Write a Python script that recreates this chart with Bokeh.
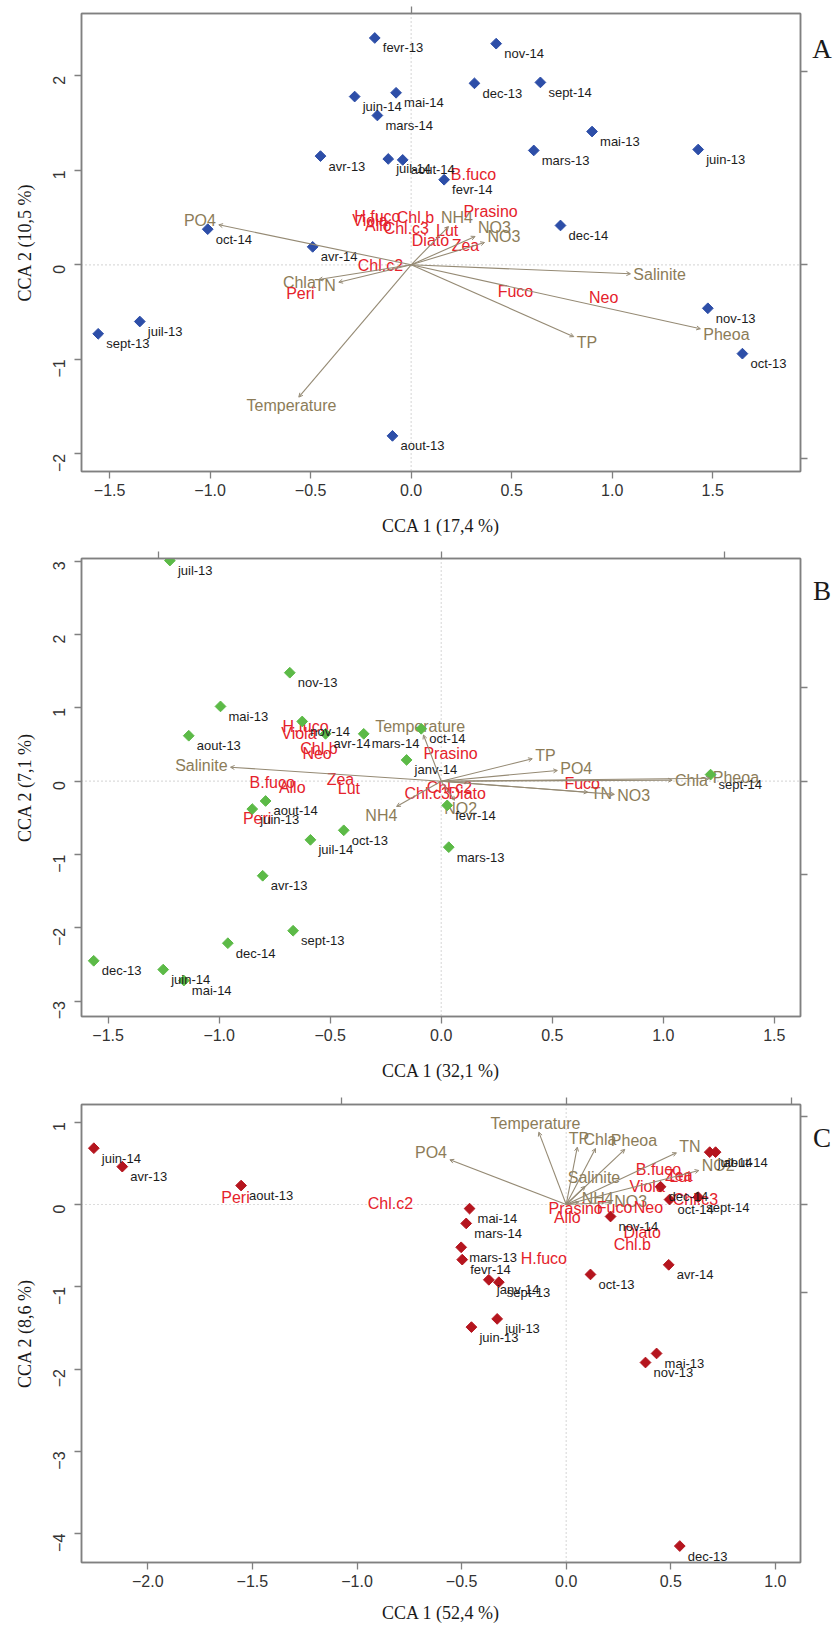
import math
from bokeh.plotting import figure
from bokeh.layouts import column, row
from bokeh.models import (Range1d, LinearAxis, FixedTicker, ColumnDataSource, Arrow,
                          OpenHead, Span, CustomJSTickFormatter)
from bokeh.core.properties import value
from bokeh.embed import file_html
from bokeh.resources import INLINE

# ---------------- Panel A ----------------
a_sites = ["fevr-13", "juin-14", "mai-14", "mars-14", "avr-13", "juil-14", "aout-14", "oct-14",
           "avr-14", "nov-14", "dec-13", "sept-14", "mai-13", "mars-13", "juin-13", "fevr-14",
           "dec-14", "juil-13", "sept-13", "aout-13", "nov-13", "oct-13"]
a_site_x = [-0.181, -0.281, -0.075, -0.168, -0.451, -0.114, -0.042, -1.012,
            -0.49, 0.423, 0.315, 0.643, 0.90, 0.61, 1.428, 0.164,
            0.743, -1.35, -1.557, -0.093, 1.476, 1.648]
a_site_y = [2.40, 1.78, 1.82, 1.58, 1.15, 1.12, 1.11, 0.377,
            0.19, 2.34, 1.92, 1.93, 1.41, 1.21, 1.22, 0.90,
            0.416, -0.60, -0.73, -1.81, -0.46, -0.94]
a_spec = ["B.fuco", "Prasino", "Chl.b", "Viola", "H.fuco", "Allo", "Chl.c3", "Lut",
          "Diato", "Zea", "Chl.c2", "Peri", "Fuco", "Neo"]
a_spec_x = [0.31, 0.395, 0.021, -0.205, -0.168, -0.163, -0.024, 0.179,
            0.096, 0.27, -0.153, -0.551, 0.519, 0.958]
a_spec_y = [0.952, 0.567, 0.504, 0.469, 0.511, 0.416, 0.384, 0.363,
            0.257, 0.204, -0.007, -0.30, -0.279, -0.343]
a_env = ["PO4", "Temperature", "Chla", "TN", "Salinite", "TP", "Pheoa", "NH4", "NO3", "NO3"]
a_env_x = [-0.957, -0.559, -0.46, -0.36, 1.091, 0.809, 1.439, 0.186, 0.318, 0.365]
a_env_y = [0.423, -1.40, -0.156, -0.184, -0.095, -0.76, -0.677, 0.405, 0.30, 0.236]
a_mul = 2.05

# ---------------- Panel B ----------------
b_sites = ["juil-13", "nov-13", "mai-13", "aout-13", "nov-14", "avr-14", "mars-14", "janv-14",
           "oct-14", "sept-14", "aout-14", "juin-13", "oct-13", "juil-14", "avr-13", "sept-13",
           "dec-14", "dec-13", "juin-14", "mai-14", "fevr-14", "mars-13"]
b_site_x = [-1.222, -0.682, -0.994, -1.137, -0.626, -0.521, -0.349, -0.156,
            -0.09, 1.213, -0.791, -0.851, -0.439, -0.589, -0.804, -0.667,
            -0.961, -1.565, -1.252, -1.159, 0.027, 0.034]
b_site_y = [3.01, 1.48, 1.02, 0.62, 0.815, 0.646, 0.646, 0.29,
            0.715, 0.09, -0.27, -0.38, -0.67, -0.80, -1.29, -2.04,
            -2.21, -2.45, -2.57, -2.72, -0.33, -0.90]
b_spec = ["H.fuco", "Viola", "Chl.b", "Neo", "B.fuco", "Allo", "Zea", "Lut",
          "Peri", "Prasino", "Fuco", "Chl.c3", "Chl.c2", "Diato"]
b_spec_x = [-0.611, -0.641, -0.551, -0.559, -0.761, -0.671, -0.454, -0.416,
            -0.829, 0.042, 0.635, -0.063, 0.037, 0.117]
b_spec_y = [0.746, 0.647, 0.45, 0.374, -0.014, -0.082, 0.019, -0.104,
            -0.513, 0.374, -0.035, -0.172, -0.086, -0.172]
b_env = ["Salinite", "Temperature", "TP", "PO4", "Chla", "Pheoa", "TN", "NO3", "NH4", "NO2"]
b_env_x = [-0.949, -0.08, 0.41, 0.523, 1.04, 1.21, 0.66, 0.78, -0.201, 0.06]
b_env_y = [0.191, 0.63, 0.306, 0.146, 0.014, 0.04, -0.15, -0.18, -0.345, -0.26]
b_mul = 1.275

# ---------------- Panel C ----------------
c_sites = ["juin-14", "avr-13", "aout-13", "mai-14", "mars-14", "mars-13", "fevr-14", "janv-14",
           "sept-13", "juil-13", "juin-13", "oct-13", "nov-14", "avr-14", "mai-13", "nov-13",
           "dec-14", "oct-14", "sept-14", "juil-14", "aout-14", "dec-13"]
c_site_x = [-2.258, -2.122, -1.554, -0.462, -0.478, -0.502, -0.497, -0.37,
            -0.322, -0.33, -0.453, 0.116, 0.212, 0.49, 0.432, 0.379,
            0.451, 0.494, 0.631, 0.686, 0.714, 0.543]
c_site_y = [0.684, 0.46, 0.23, -0.05, -0.23, -0.52, -0.67, -0.915,
            -0.944, -1.39, -1.49, -0.85, -0.146, -0.733, -1.81, -1.92,
            0.216, 0.06, 0.089, 0.636, 0.636, -4.15]
c_spec = ["Peri", "Chl.c2", "H.fuco", "Prasino", "Allo", "Fuco", "Neo", "Diato",
          "Chl.b", "B.fuco", "Viola", "Zea", "Lut", "Chl.c3"]
c_spec_x = [-1.581, -0.84, -0.107, 0.045, 0.005, 0.231, 0.393, 0.363,
            0.316, 0.441, 0.387, 0.538, 0.546, 0.618]
c_spec_y = [0.089, 0.009, -0.66, -0.052, -0.162, -0.04, -0.04, -0.337,
            -0.486, 0.425, 0.219, 0.352, 0.34, 0.057]
c_env = ["Temperature", "PO4", "TP", "Chla", "Pheoa", "TN", "NO2", "Salinite", "NH4", "NO3"]
c_env_x = [-0.131, -0.556, 0.053, 0.14, 0.28, 0.527, 0.634, 0.09, 0.06, 0.216]
c_env_y = [0.879, 0.543, 0.696, 0.68, 0.67, 0.628, 0.413, 0.22, 0.03, 0.025]
c_mul = 1.075

panel_letters = ["A", "B", "C"]

# ---------------- styling ----------------
FIG_W = 808          # main plot (frame right edge at 800)
LETTER_W = 25        # strip to the right carrying the panel letter
BORDER_L, BORDER_R = 81, 8
FRAME_W = FIG_W - BORDER_L - BORDER_R
FRAME_H = 458
SANS = "Liberation Sans"
SERIF = "Liberation Serif"
SITE_TXT = "#1c1c1c"
SPEC_COL = "#e5222b"
ENV_COL = "#8c7c58"
ARROW_COL = "#958a74"
FRAME_COL = "#808080"

HELV = {'A': 667, 'B': 667, 'C': 722, 'D': 722, 'E': 667, 'F': 611, 'H': 722, 'N': 722,
        'O': 778, 'P': 667, 'S': 667, 'T': 611, 'a': 556, 'e': 556, 'h': 556, 'i': 222,
        'l': 222, 'm': 833, 'n': 556, 'o': 556, 'p': 556, 'r': 333, 't': 278, 'u': 556,
        '2': 556, '3': 556, '4': 556, '.': 278}


def str_w(s, fs):
    return sum(HELV.get(c, 556) for c in s) * fs / 1000.0


def arrow_text_xy(xs, ys, labels, kx, ky, fs=16):
    """vegan::ordiArrowTextXY - put the label centre on the continuation of the arrow."""
    lx, ly = [], []
    h = 0.72 * fs
    for x, y, lab in zip(xs, ys, labels):
        w = str_w(lab, fs) / kx
        offx = math.copysign(1, x) * (w / 2 + (h / 4) / kx)
        offy = 0.75 * (h / ky) * math.copysign(1, y)
        b = y / x if x != 0 else float("inf")
        move = offy / b if b != 0 else float("inf")
        if math.isfinite(move) and abs(move) <= abs(offx):
            offx = move
        else:
            offy = b * offx
        lx.append(x + offx)
        ly.append(y + offy)
    return lx, ly


def style_axis(ax, fmt_digits):
    ax.axis_line_color = FRAME_COL
    ax.axis_line_width = 1.5
    ax.major_tick_line_color = FRAME_COL
    ax.major_tick_line_width = 1.3
    ax.major_tick_out = 7
    ax.major_tick_in = 0
    ax.minor_tick_line_color = None
    ax.major_label_text_font = SANS
    ax.major_label_text_font_size = "16px"
    ax.major_label_text_color = "#333333"
    ax.axis_label_text_font = SERIF
    ax.axis_label_text_font_style = "normal"
    ax.axis_label_text_font_size = "18px"
    ax.axis_label_text_color = "#1a1a1a"
    ax.formatter = CustomJSTickFormatter(
        code="return (tick < 0 ? '\u2212' : '') + Math.abs(tick).toFixed(%d);" % fmt_digits)


def letter_strip(letter, height, top):
    q = figure(width=LETTER_W, height=height, x_range=Range1d(0, LETTER_W),
               y_range=Range1d(0, height), output_backend="svg", toolbar_location=None,
               min_border=0, min_border_left=0, min_border_right=0,
               min_border_top=0, min_border_bottom=0)
    q.axis.visible = False
    q.grid.visible = False
    q.outline_line_color = None
    q.border_fill_color = "white"
    q.background_fill_color = "white"
    q.text(x=[LETTER_W / 2 + 1], y=[height - top - 29], text=[letter],
           text_font=value(SERIF), text_font_size="27px", text_color="#1a1a1a",
           text_align="center", text_baseline="middle")
    return q


def panel(letter, sites, sx, sy, pcol, specs, spx, spy, envs, ex, ey, mul,
          xlim, ylim, xticks, yticks, xlab, ylab, top, bottom, title_gap):
    height = top + FRAME_H + bottom
    p = figure(width=FIG_W, height=height,
               x_range=Range1d(xlim[0], xlim[1]), y_range=Range1d(ylim[0], ylim[1]),
               output_backend="svg", toolbar_location=None,
               min_border_left=BORDER_L, min_border_right=BORDER_R,
               min_border_top=top, min_border_bottom=bottom)
    p.grid.visible = False
    p.outline_line_color = FRAME_COL
    p.outline_line_width = 1.5
    p.background_fill_color = "white"
    p.border_fill_color = "white"

    kx = FRAME_W / (xlim[1] - xlim[0])
    ky = FRAME_H / (ylim[1] - ylim[0])

    # main axes
    p.xaxis.ticker = FixedTicker(ticks=xticks)
    p.yaxis.ticker = FixedTicker(ticks=yticks)
    style_axis(p.xaxis[0], 1)
    style_axis(p.yaxis[0], 0)
    p.xaxis.axis_label = xlab
    p.yaxis.axis_label = ylab
    p.xaxis.major_label_standoff = 5
    p.xaxis.axis_label_standoff = title_gap
    p.yaxis.major_label_standoff = 15
    p.yaxis.axis_label_standoff = 10
    p.yaxis.major_label_orientation = math.pi / 2

    # biplot-arrow axes (top / right): ticks at -1, 0, 1 of the arrow scale, unlabelled
    p.extra_x_ranges = {"bp": Range1d(xlim[0] / mul, xlim[1] / mul)}
    p.extra_y_ranges = {"bp": Range1d(ylim[0] / mul, ylim[1] / mul)}
    for side, ax in (("above", LinearAxis(x_range_name="bp")),
                     ("right", LinearAxis(y_range_name="bp"))):
        ax.ticker = FixedTicker(ticks=[-1, 0, 1])
        ax.formatter = CustomJSTickFormatter(code="return '';")
        ax.axis_line_color = FRAME_COL
        ax.axis_line_width = 1.5
        ax.major_tick_line_color = FRAME_COL
        ax.major_tick_line_width = 1.3
        ax.major_tick_out = 7
        ax.major_tick_in = 0
        ax.minor_tick_line_color = None
        ax.major_label_standoff = 0
        p.add_layout(ax, side)

    # dotted zero lines
    for dim in ("width", "height"):
        p.add_layout(Span(location=0, dimension=dim, line_color="#b8b8b8",
                          line_dash="1 3", line_width=1.2, level="underlay"))

    # environmental arrows
    src_env = ColumnDataSource(dict(x0=[0.0] * len(ex), y0=[0.0] * len(ey), x=ex, y=ey))
    p.add_layout(Arrow(end=OpenHead(size=4, line_color=ARROW_COL, line_width=1),
                       x_start="x0", y_start="y0", x_end="x", y_end="y",
                       line_color=ARROW_COL, line_width=1.1, source=src_env))
    lx, ly = arrow_text_xy(ex, ey, envs, kx, ky)
    p.text(x=lx, y=ly, text=envs, text_font=value(SANS), text_font_size="16px",
           text_color=ENV_COL, text_align="center", text_baseline="middle")

    # species
    p.text(x=spx, y=spy, text=specs, text_font=value(SANS), text_font_size="16px",
           text_color=SPEC_COL, text_align="center", text_baseline="middle")

    # sites
    p.scatter(x=sx, y=sy, marker="square", angle=math.pi / 4, size=7.6,
              fill_color=pcol, line_color=pcol)
    p.text(x=sx, y=sy, text=sites, text_font=value(SANS), text_font_size="13px",
           text_color=SITE_TXT, text_align="left", text_baseline="middle",
           x_offset=8, y_offset=10)

    return row(p, letter_strip(letter, height, top), spacing=0)


pA = panel(panel_letters[0], a_sites, a_site_x, a_site_y, "#2d4ea8", a_spec, a_spec_x, a_spec_y,
           a_env, a_env_x, a_env_y, a_mul, (-1.640, 1.937), (-2.187, 2.659),
           [-1.5, -1.0, -0.5, 0.0, 0.5, 1.0, 1.5], [-2, -1, 0, 1, 2],
           "CCA 1 (17,4 %)", "CCA 2 (10,5 %)", 13, 77, 17)
pB = panel(panel_letters[1], b_sites, b_site_x, b_site_y, "#5cba47", b_spec, b_spec_x, b_spec_y,
           b_env, b_env_x, b_env_y, b_mul, (-1.620, 1.618), (-3.210, 3.038),
           [-1.5, -1.0, -0.5, 0.0, 0.5, 1.0, 1.5], [-3, -2, -1, 0, 1, 2, 3],
           "CCA 1 (32,1 %)", "CCA 2 (7,1 %)", 10, 78, 17)
pC = panel(panel_letters[2], c_sites, c_site_x, c_site_y, "#b5151e", c_spec, c_spec_x, c_spec_y,
           c_env, c_env_x, c_env_y, c_mul, (-2.317, 1.120), (-4.350, 1.215),
           [-2.0, -1.5, -1.0, -0.5, 0.0, 0.5, 1.0], [-4, -3, -2, -1, 0, 1],
           "CCA 1 (52,4 %)", "CCA 2 (8,6 %)", 10, 64, 13)

layout = column(pA, pB, pC, spacing=0)
open("out.html", "w").write(file_html(layout, INLINE))
